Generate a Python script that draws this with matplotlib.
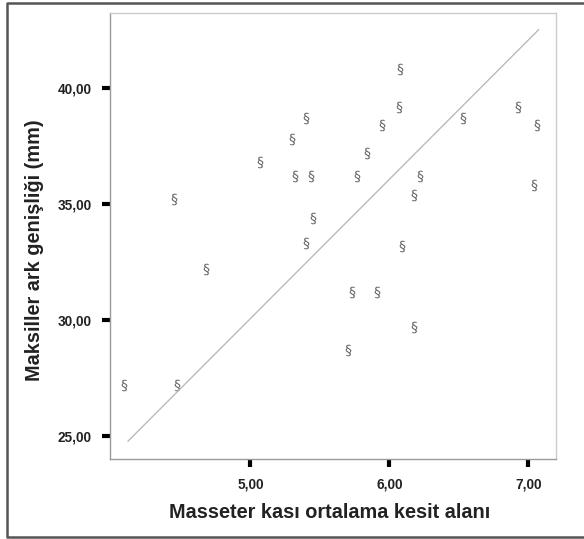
import matplotlib
matplotlib.use("Agg")
import matplotlib.pyplot as plt
from matplotlib.lines import Line2D
from matplotlib import font_manager

masseter = [4.09, 4.47, 4.45, 4.68, 5.07, 5.30, 5.40, 5.32, 5.44, 5.40, 5.45,
            5.77, 5.84, 5.95, 6.08, 6.07, 6.22, 6.18, 6.09, 5.73, 5.91, 6.18,
            5.70, 6.53, 6.93, 7.06, 7.04]
maksiller = [27.2, 27.2, 35.2, 32.2, 36.8, 37.8, 38.7, 36.2, 36.2, 33.3, 34.4,
             36.2, 37.2, 38.4, 40.8, 39.2, 36.2, 35.4, 33.2, 31.2, 31.2, 29.7,
             28.7, 38.7, 39.2, 38.4, 35.8]
fit_x = [4.12, 7.075]
fit_y = [24.78, 42.51]
xticks = [5, 6, 7]
xticklabels = ["5,00", "6,00", "7,00"]
yticks = [25, 30, 35, 40]
yticklabels = ["25,00", "30,00", "35,00", "40,00"]

names = {f.name for f in font_manager.fontManager.ttflist}
fam = ["Liberation Sans Narrow"] if "Liberation Sans Narrow" in names else ["Liberation Sans"]
narrow = fam[0] == "Liberation Sans Narrow"
plt.rcParams['font.family'] = fam + ["DejaVu Sans"]

W, H = 584, 539
fig = plt.figure(figsize=(W / 100, H / 100), dpi=100)
ax = fig.add_axes([110 / W, 1 - 459 / H, (556 - 110) / W, (459 - 13) / H])

ax.plot(fit_x, fit_y, color="#b4b4b4", lw=0.9)
ax.scatter(masseter, maksiller, marker=r"$§$", s=70, color="#666666", linewidths=0)

ax.set_xlim(3.99, 7.20)
ax.set_ylim(24.01, 43.23)
ax.set_xticks(xticks)
ax.set_xticklabels(xticklabels)
ax.set_yticks(yticks)
ax.set_yticklabels(yticklabels)
tick_fs = 11 if narrow else 9.8
ax.tick_params(direction="out", length=6, width=3, color="black",
               labelsize=tick_fs, pad=7)
for lbl in ax.get_xticklabels() + ax.get_yticklabels():
    lbl.set_fontweight("bold")
    lbl.set_color("#222222")
for s in ax.spines.values():
    s.set_color("#cccccc")
    s.set_linewidth(1.0)
ax.spines["left"].set_color("#9a9a9a")
ax.spines["bottom"].set_color("#9a9a9a")

lab_fs = 16.5 if narrow else 14.3
fig.text(330 / W, 1 - 512 / H, "Masseter kası ortalama kesit alanı",
         ha="center", va="center", fontsize=lab_fs, fontweight="bold", color="#222222")
fig.text(35 / W, 1 - 250 / H, "Maksiller ark genişliği (mm)", rotation=90,
         ha="center", va="center", fontsize=lab_fs, fontweight="bold", color="#222222")

frame_x = [(W + 5) / W, 7 / W, 7 / W, (W + 5) / W]
frame_y = [1 - 2.5 / H, 1 - 2.5 / H, 1 - 537 / H, 1 - 537 / H]
fig.lines.append(Line2D(frame_x, frame_y, transform=fig.transFigure,
                        color="#555555", linewidth=1.8))

fig.savefig("out.png", dpi=100)
